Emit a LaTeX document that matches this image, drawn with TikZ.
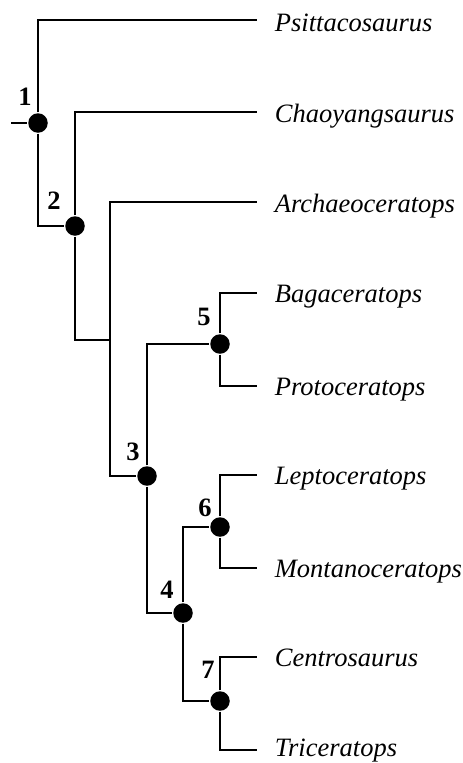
\documentclass[tikz,border=0pt]{standalone}
\usepackage{fontspec}
\setmainfont{Liberation Serif}
\usepackage{tikz}
\usepackage{xcolor}

\begin{document}
\begin{tikzpicture}[x=1pt,y=-1pt,line width=1.8pt,
  cladedot/.style={circle,fill=black,inner sep=0pt,minimum size=19.5pt},
  taxon/.style={anchor=base west,inner sep=0pt,font=\fontsize{26.5}{30}\selectfont\itshape},
  cladenum/.style={inner sep=0pt,font=\fontsize{26.5}{30}\selectfont\bfseries}]
\useasboundingbox (0,0) rectangle (463,763);
  % branch points
  \foreach \nm/\px/\py in {n1/38/123,n2/75/226,n3/147/476,n4/183/613,n5/220/344,n6/220/527,n7/220/701}
  {  \node [cladedot] (\nm) at (\px,\py) {};}
\coordinate (root) at (11,123);
\coordinate (j) at (110,340);
  % leaf tips and names (tip y / text baseline y)
  \foreach \tp/\ty/\by/\tx in {t1/20/31/Psittacosaurus,t2/112/122/Chaoyangsaurus,t3/202/212/Archaeoceratops,t4/293/302/Bagaceratops,t5/386/395/Protoceratops,t6/475/484/Leptoceratops,t7/568/577/Montanoceratops,t8/657/666/Centrosaurus,t9/750/756/Triceratops}
  {  \coordinate (\tp) at (257,\ty);
     \node [taxon] (\tx) at (274,\by) {\tx};}
  % numbers
  \foreach \lb/\px/\py in {1/25/97,2/54/201,3/133/452,4/167/590,5/204/317,6/205/508,7/208/670}
  {  \node [cladenum] (lab\lb) at (\px,\py) {\lb};}
\draw (root) -- (n1);
\draw (n1) |- (t1);
\draw (n1) |- (n2);
\draw (n2) |- (t2);
\draw (n2) |- (j);
\draw (j) |- (t3);
\draw (j) |- (n3);
\draw (n3) |- (n5);
\draw (n5) |- (t4);
\draw (n5) |- (t5);
\draw (n3) |- (n4);
\draw (n4) |- (n6);
\draw (n6) |- (t6);
\draw (n6) |- (t7);
\draw (n4) |- (n7);
\draw (n7) |- (t8);
\draw (n7) |- (t9);
\end{tikzpicture}
\end{document}
